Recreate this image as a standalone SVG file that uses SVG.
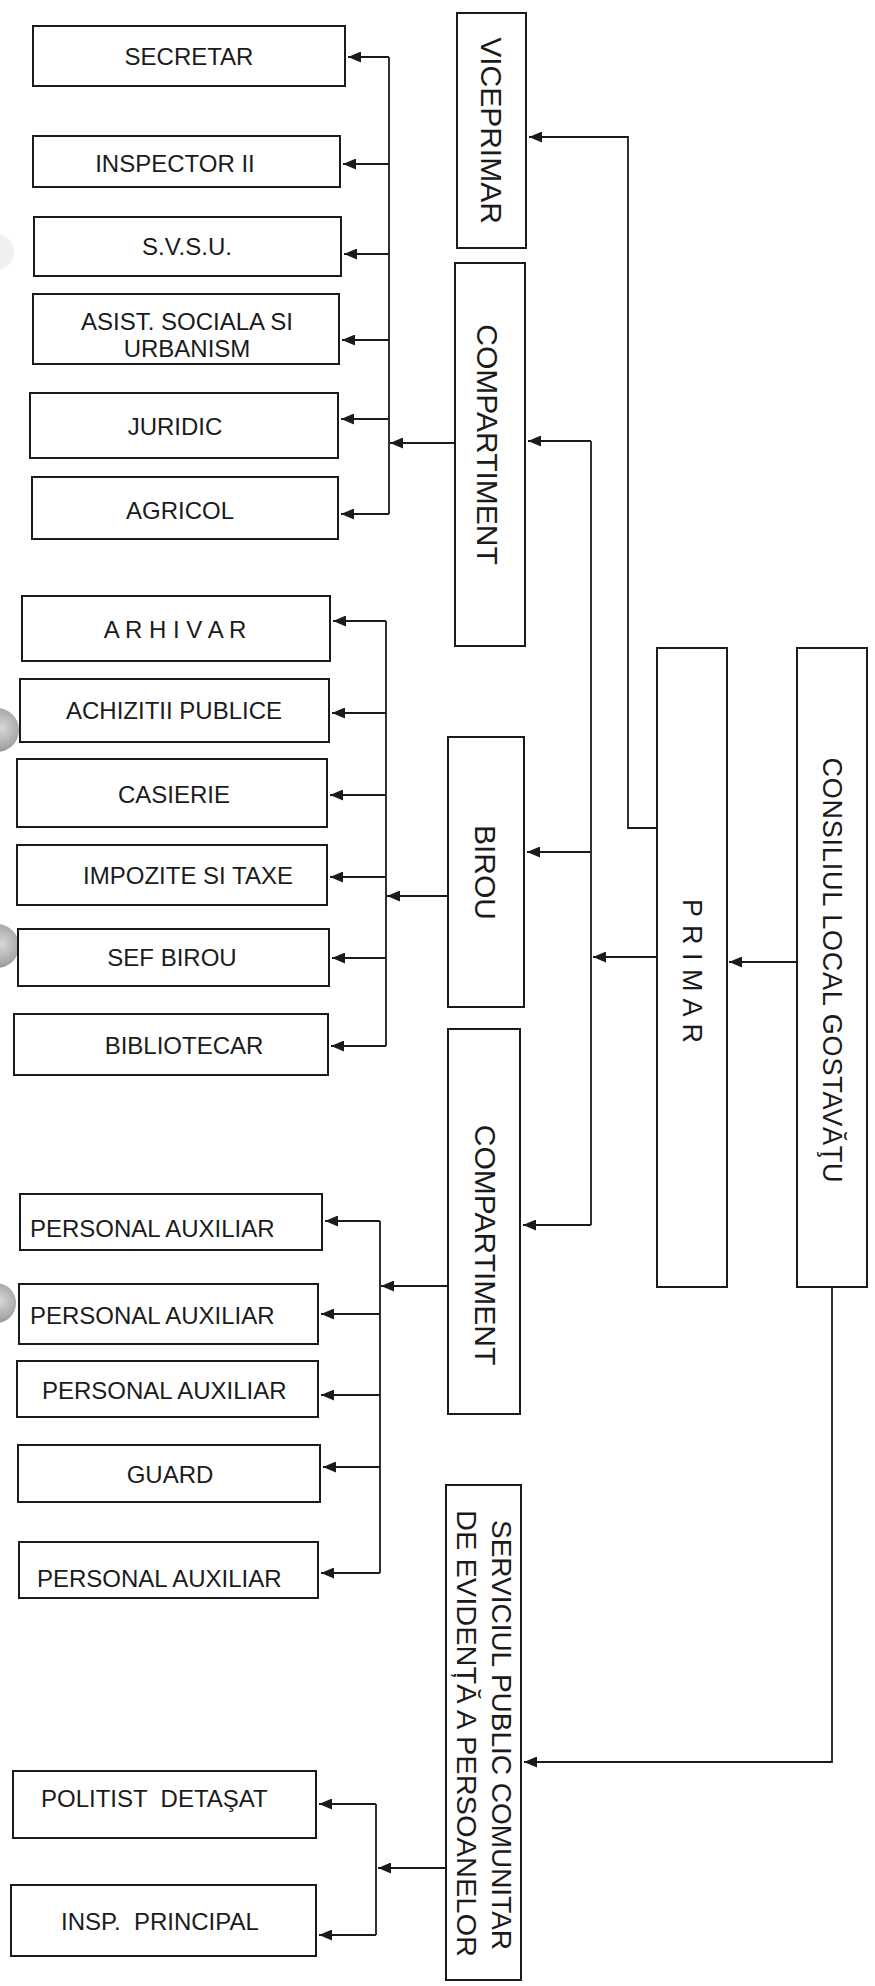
<svg xmlns="http://www.w3.org/2000/svg" width="875" height="1986" viewBox="0 0 875 1986">
<defs>
<style>
.box{fill:#fff;stroke:#1b1b1b;stroke-width:2}
.t{font-family:"Liberation Sans",Arial,sans-serif;font-size:24px;fill:#1b1b1b}
.m{text-anchor:middle}
.r{font-family:"Liberation Sans",Arial,sans-serif;font-size:30px;fill:#1b1b1b;text-anchor:middle}
.c{fill:none;stroke:#1b1b1b;stroke-width:1.8}
.a{fill:none;stroke:#1b1b1b;stroke-width:1.8;marker-end:url(#ah)}
</style>
<marker id="ah" viewBox="0 0 13 11" refX="13" refY="5.5" markerWidth="13" markerHeight="11" markerUnits="userSpaceOnUse" orient="auto">
<path d="M0,0 L13,5.5 L0,11 z" fill="#1b1b1b"/>
</marker>
<radialGradient id="blob" cx="0.6" cy="0.45" r="0.6">
<stop offset="0" stop-color="#d8d8d8"/>
<stop offset="0.7" stop-color="#a9a9a9"/>
<stop offset="1" stop-color="#8e8e8e"/>
</radialGradient>
</defs>
<rect width="875" height="1986" fill="#fff"/>
<g id="holes">
<circle cx="-4" cy="252" r="18" fill="#e6e6e6" opacity="0.6"/>
<circle cx="-3" cy="730" r="22" fill="url(#blob)"/>
<circle cx="-3" cy="946" r="22" fill="url(#blob)"/>
<circle cx="-4" cy="1303" r="20" fill="url(#blob)"/>
</g>
<g id="connectors">
<path class="c" d="M389,57 V514"/>
<path class="a" d="M389,57 H348"/>
<path class="a" d="M389,164 H343"/>
<path class="a" d="M389,254 H344"/>
<path class="a" d="M389,340 H342"/>
<path class="a" d="M389,419 H341"/>
<path class="a" d="M389,514 H341"/>
<path class="a" d="M455,443 H390"/>
<path class="c" d="M386,621 V1046"/>
<path class="a" d="M386,621 H333"/>
<path class="a" d="M386,713 H332"/>
<path class="a" d="M386,795 H330"/>
<path class="a" d="M386,877 H330"/>
<path class="a" d="M386,958 H332"/>
<path class="a" d="M386,1046 H331"/>
<path class="a" d="M448,896 H387"/>
<path class="c" d="M380,1221 V1573"/>
<path class="a" d="M380,1221 H325"/>
<path class="a" d="M380,1314 H321"/>
<path class="a" d="M380,1395 H321"/>
<path class="a" d="M380,1467 H323"/>
<path class="a" d="M380,1573 H321"/>
<path class="a" d="M448,1286 H381"/>
<path class="c" d="M376,1804 V1935"/>
<path class="a" d="M376,1804 H319"/>
<path class="a" d="M376,1935 H319"/>
<path class="a" d="M446,1868 H378"/>
<path class="a" d="M657,828 H628 V137 H529"/>
<path class="c" d="M591,441 V1225"/>
<path class="a" d="M591,441 H528"/>
<path class="a" d="M591,852 H527"/>
<path class="a" d="M591,1225 H523"/>
<path class="a" d="M657,957 H593"/>
<path class="a" d="M797,962 H729"/>
<path class="a" d="M832,1287 V1762 H524"/>
</g>
<g id="secretar"><rect class="box" x="33" y="26" width="312" height="60"/><text class="t m" x="189" y="65">SECRETAR</text></g>
<g id="inspector"><rect class="box" x="33" y="136" width="307" height="51"/><text class="t m" x="175" y="172">INSPECTOR II</text></g>
<g id="svsu"><rect class="box" x="34" y="217" width="307" height="59"/><text class="t m" x="187" y="255">S.V.S.U.</text></g>
<g id="asist"><rect class="box" x="33" y="294" width="306" height="70"/><text class="t m" x="187" y="330">ASIST. SOCIALA SI</text><text class="t m" x="187" y="357">URBANISM</text></g>
<g id="juridic"><rect class="box" x="30" y="393" width="308" height="65"/><text class="t m" x="175" y="435">JURIDIC</text></g>
<g id="agricol"><rect class="box" x="32" y="477" width="306" height="62"/><text class="t m" x="180" y="519">AGRICOL</text></g>
<g id="arhivar"><rect class="box" x="22" y="596" width="308" height="65"/><text class="t m" x="175" y="638">A R H I V A R</text></g>
<g id="achizitii"><rect class="box" x="20" y="679" width="309" height="63"/><text class="t m" x="174" y="719">ACHIZITII PUBLICE</text></g>
<g id="casierie"><rect class="box" x="17" y="759" width="310" height="68"/><text class="t m" x="174" y="803">CASIERIE</text></g>
<g id="impozite"><rect class="box" x="17" y="845" width="310" height="60"/><text class="t m" x="188" y="884">IMPOZITE SI TAXE</text></g>
<g id="sefbirou"><rect class="box" x="18" y="929" width="311" height="57"/><text class="t m" x="172" y="966">SEF BIROU</text></g>
<g id="bibliotecar"><rect class="box" x="14" y="1014" width="314" height="61"/><text class="t m" x="184" y="1054">BIBLIOTECAR</text></g>
<g id="pa1"><rect class="box" x="20" y="1194" width="302" height="56"/><text class="t" x="30" y="1237">PERSONAL AUXILIAR</text></g>
<g id="pa2"><rect class="box" x="19" y="1284" width="299" height="60"/><text class="t" x="30" y="1324">PERSONAL AUXILIAR</text></g>
<g id="pa3"><rect class="box" x="17" y="1361" width="301" height="56"/><text class="t" x="42" y="1399">PERSONAL AUXILIAR</text></g>
<g id="guard"><rect class="box" x="18" y="1445" width="302" height="57"/><text class="t m" x="170" y="1483">GUARD</text></g>
<g id="pa5"><rect class="box" x="19" y="1542" width="299" height="56"/><text class="t" x="37" y="1587">PERSONAL AUXILIAR</text></g>
<g id="politist"><rect class="box" x="13" y="1771" width="303" height="67"/><text class="t" x="41" y="1807" xml:space="preserve">POLITIST  DETAŞAT</text></g>
<g id="insp"><rect class="box" x="11" y="1885" width="305" height="71"/><text class="t" x="61" y="1930" xml:space="preserve">INSP.  PRINCIPAL</text></g>
<g id="viceprimar"><rect class="box" x="457" y="13" width="69" height="235"/><text class="r" transform="translate(492,130.5) rotate(90)" x="0" y="10.7">VICEPRIMAR</text></g>
<g id="compartiment1"><rect class="box" x="455" y="263" width="70" height="383"/><text class="r" transform="translate(488,444.5) rotate(90)" x="0" y="10.7">COMPARTIMENT</text></g>
<g id="birou"><rect class="box" x="448" y="737" width="76" height="270"/><text class="r" transform="translate(486,872.5) rotate(90)" x="0" y="10.7">BIROU</text></g>
<g id="compartiment2"><rect class="box" x="448" y="1029" width="72" height="385"/><text class="r" transform="translate(486,1245) rotate(90)" x="0" y="10.7">COMPARTIMENT</text></g>
<g id="serviciul"><rect class="box" x="446" y="1485" width="75" height="495"/><text class="r" style="font-size:28px" transform="translate(502,1735) rotate(90)" x="0" y="10" textLength="430" lengthAdjust="spacingAndGlyphs">SERVICIUL PUBLIC COMUNITAR</text><text class="r" style="font-size:28px" transform="translate(467,1733.5) rotate(90)" x="0" y="10" textLength="447" lengthAdjust="spacingAndGlyphs">DE EVIDENȚĂ A PERSOANELOR</text></g>
<g id="primar"><rect class="box" x="657" y="648" width="70" height="639"/><text class="r" style="font-size:27px" transform="translate(693,971) rotate(90)" x="0" y="9.7" textLength="144" lengthAdjust="spacing">P R I M A R</text></g>
<g id="consiliu"><rect class="box" x="797" y="648" width="70" height="639"/><text class="r" style="font-size:27px" transform="translate(833,970) rotate(90)" x="0" y="9.7" textLength="425" lengthAdjust="spacing">CONSILIUL LOCAL GOSTAVĂŢU</text></g>
</svg>
